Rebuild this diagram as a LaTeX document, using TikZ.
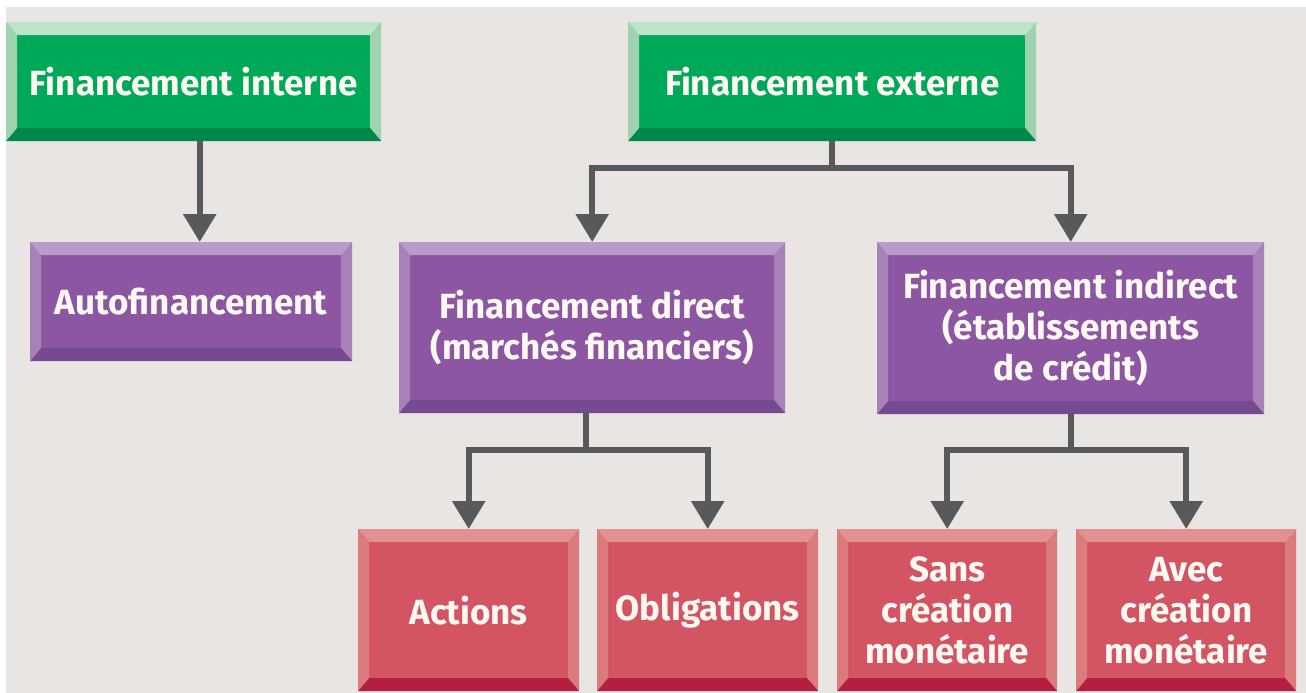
\documentclass[tikz,border=0pt]{standalone}
\usepackage{fontspec}
\setmainfont{Fira Sans}
\usetikzlibrary{arrows.meta}
\definecolor{fond}{HTML}{E8E5E2}
\definecolor{fleche}{HTML}{58595B}
\definecolor{texte}{HTML}{FFF9F2}
\definecolor{vertF}{HTML}{00A859}
\definecolor{vertH}{HTML}{BEE3CB}
\definecolor{vertC}{HTML}{9FD3B0}
\definecolor{vertB}{HTML}{00874B}
\definecolor{violF}{HTML}{8C56A2}
\definecolor{violH}{HTML}{B99BC9}
\definecolor{violC}{HTML}{A682B8}
\definecolor{violB}{HTML}{764A90}
\definecolor{rougeF}{HTML}{D35563}
\definecolor{rougeH}{HTML}{E29090}
\definecolor{rougeC}{HTML}{DC7B7E}
\definecolor{rougeB}{HTML}{B51F3F}
\tikzset{
  bevel/.style n args={4}{
    fill=#1,
    path picture={
      \coordinate (bvNW) at (path picture bounding box.north west);
      \coordinate (bvNE) at (path picture bounding box.north east);
      \coordinate (bvSE) at (path picture bounding box.south east);
      \coordinate (bvSW) at (path picture bounding box.south west);
      \fill[#3] (bvNW) -- ([shift={(11pt,-13pt)}]bvNW) -- ([shift={(11pt,13pt)}]bvSW) -- (bvSW) -- cycle;
      \fill[#3] (bvNE) -- ([shift={(-11pt,-13pt)}]bvNE) -- ([shift={(-11pt,13pt)}]bvSE) -- (bvSE) -- cycle;
      \fill[#2] (bvNW) -- (bvNE) -- ([shift={(-11pt,-13pt)}]bvNE) -- ([shift={(11pt,-13pt)}]bvNW) -- cycle;
      \fill[#4] (bvSW) -- (bvSE) -- ([shift={(-11pt,13pt)}]bvSE) -- ([shift={(11pt,13pt)}]bvSW) -- cycle;
    }
  },
}

\begin{document}
\begin{tikzpicture}[
    x=1pt, y=-1pt,
    box/.style={rectangle, anchor=north west, inner sep=0pt, align=center,
      text=texte, font=\fontsize{35}{41}\selectfont\bfseries},
    vert/.style={box, bevel={vertF}{vertH}{vertC}{vertB}},
    viol/.style={box, bevel={violF}{violH}{violC}{violB}},
    rouge/.style={box, bevel={rougeF}{rougeH}{rougeC}{rougeB}},
    conn/.style={draw=fleche, line width=6pt, -{Triangle[width=32pt,length=28pt]}}
    ]
    \useasboundingbox (0,0) rectangle (1306,693);
    \fill[white] (0,0) rectangle (1306,693);
    \fill[fond] (6,7) rectangle (1306,693);

    % niveau 1
    \node[vert, minimum width=375pt, minimum height=119pt] (interne) at (6,22) {Financement interne};
    \node[vert, minimum width=408pt, minimum height=119pt] (externe) at (628,22) {Financement externe};

    % niveau 2
    \node[viol, minimum width=322pt, minimum height=119pt] (auto) at (30,242) {Autofinancement};
    \node[viol, minimum width=386pt, minimum height=171pt] (direct) at (399,242) {Financement direct\\(marchés financiers)};
    \node[viol, minimum width=387pt, minimum height=172pt] (indirect) at (877,242) {Financement indirect\\(établissements\\de crédit)};

    % niveau 3
    \node[rouge, minimum width=221pt, minimum height=162pt] (actions) at (358,529) {Actions};
    \node[rouge, minimum width=221pt, minimum height=162pt] (oblig) at (597,529) {Obligations};
    \node[rouge, minimum width=220pt, minimum height=162pt] (sans) at (837,529) {Sans\\création\\monétaire};
    \node[rouge, minimum width=220pt, minimum height=162pt] (avec) at (1076,529) {Avec\\création\\monétaire};

    \draw[conn] ([xshift=6pt]interne.south) -- ([xshift=6pt]interne.south |- auto.north);
    \draw[conn] (externe.south) -- ++(0,27) -| (direct.north);
    \draw[conn] (externe.south) -- ++(0,27) -| (indirect.north);
    \draw[conn] ([xshift=-6pt]direct.south) -- ++(0,37) -| (actions.north);
    \draw[conn] ([xshift=-6pt]direct.south) -- ++(0,37) -| (oblig.north);
    \draw[conn] (indirect.south) -- ++(0,36) -| (sans.north);
    \draw[conn] (indirect.south) -- ++(0,36) -| (avec.north);
\end{tikzpicture}
\end{document}
